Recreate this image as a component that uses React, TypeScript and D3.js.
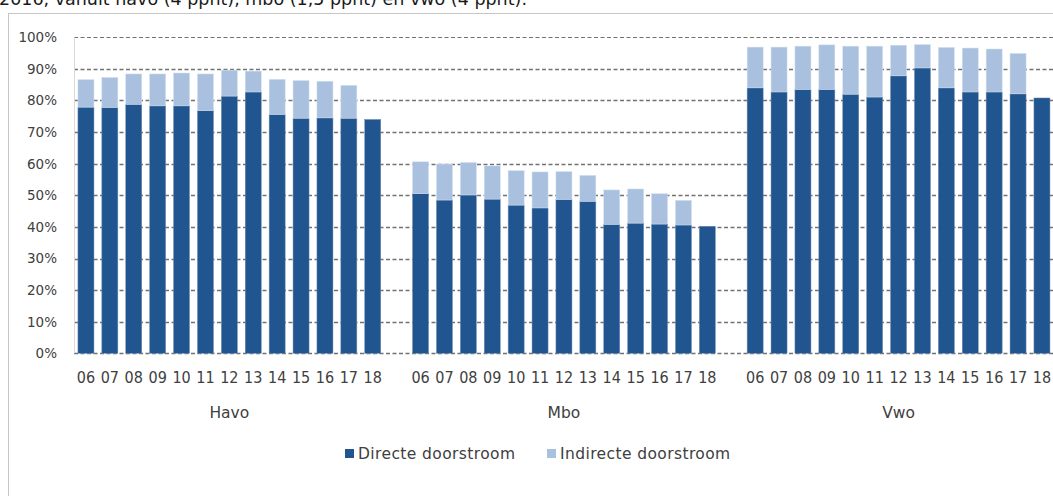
import React, { useEffect, useRef } from "react";
import * as d3 from "d3";

const groups = ["Havo", "Mbo", "Vwo"];
const years = ["06", "07", "08", "09", "10", "11", "12", "13", "14", "15", "16", "17", "18"];

const directHavo = [77.9, 77.8, 78.8, 78.3, 78.3, 76.8, 81.4, 82.7, 75.6, 74.4, 74.5, 74.4, 74.0];
const indirectHavo = [8.7, 9.5, 9.6, 10.1, 10.4, 11.6, 8.2, 6.6, 11.1, 11.9, 11.6, 10.4, 0];
const directMbo = [50.5, 48.5, 50.1, 48.8, 46.9, 46.0, 48.7, 48.1, 40.8, 41.2, 40.9, 40.6, 40.2];
const indirectMbo = [10.1, 11.4, 10.3, 10.5, 10.9, 11.4, 8.8, 8.2, 10.9, 10.8, 9.6, 7.8, 0];
const directVwo = [84.0, 82.7, 83.5, 83.5, 82.0, 81.1, 87.8, 90.3, 84.0, 82.7, 82.7, 82.1, 80.8];
const indirectVwo = [12.9, 14.2, 13.7, 14.1, 15.2, 16.1, 9.7, 7.4, 12.8, 13.9, 13.6, 12.8, 0];

const yTicks = [0, 10, 20, 30, 40, 50, 60, 70, 80, 90, 100];
const seriesNames = ["Directe doorstroom", "Indirecte doorstroom"];
const colors = ["#21558f", "#a9c1de"];

const directByGroup = [directHavo, directMbo, directVwo];
const indirectByGroup = [indirectHavo, indirectMbo, indirectVwo];

const W = 1053;
const H = 496;
const FONT = "DejaVu Sans, Verdana, sans-serif";

export default function App() {
  const svgRef = useRef<SVGSVGElement | null>(null);

  useEffect(() => {
    const svg = d3.select(svgRef.current);
    svg.selectAll("*").remove();

    // slots: 13 years per group, with one empty slot between groups
    const slots: string[] = [];
    groups.forEach((g, gi) => {
      if (gi > 0) slots.push("gap" + gi);
      years.forEach((y) => slots.push(g + "-" + y));
    });

    const left = 74;
    const step = 23.9;
    const x = d3.scaleBand<string>()
      .domain(slots)
      .range([left, left + slots.length * step])
      .paddingInner(0.33)
      .paddingOuter(0.165);

    const y = d3.scaleLinear().domain([0, 100]).range([353.3, 37.3]);

    const rows = groups.flatMap((g, gi) =>
      years.map((yr, i) => ({
        key: g + "-" + yr,
        year: yr,
        direct: directByGroup[gi][i],
        indirect: indirectByGroup[gi][i],
      }))
    );

    // caption line, cut off by the top edge as in the source
    svg.append("text")
      .attr("x", -1)
      .attr("y", 4.5)
      .attr("font-family", FONT)
      .attr("font-size", 17.5)
      .attr("fill", "#1a1a1a")
      .text("2016, vanuit havo (4 ppnt), mbo (1,5 ppnt) en vwo (4 ppnt).");

    // outer frame
    svg.append("rect")
      .attr("x", 8.5)
      .attr("y", 13.5)
      .attr("width", W + 20)
      .attr("height", H + 20)
      .attr("fill", "white")
      .attr("stroke", "#c6c6c6")
      .attr("stroke-width", 1);

    // gridlines
    svg.append("g")
      .selectAll("line")
      .data(yTicks)
      .join("line")
      .attr("x1", left)
      .attr("x2", W)
      .attr("y1", (d) => Math.round(y(d)) + 0.5)
      .attr("y2", (d) => Math.round(y(d)) + 0.5)
      .attr("stroke", "#727272")
      .attr("stroke-width", (d) => (d === 100 ? 1 : 1.6))
      .attr("stroke-dasharray", "4,2.5");

    svg.append("line")
      .attr("x1", left + 0.5)
      .attr("x2", left + 0.5)
      .attr("y1", y(100))
      .attr("y2", y(0))
      .attr("stroke", "#d9d9d9");

    // y labels
    svg.append("g")
      .selectAll("text")
      .data(yTicks)
      .join("text")
      .attr("x", 57)
      .attr("y", (d) => y(d))
      .attr("dy", "0.36em")
      .attr("text-anchor", "end")
      .attr("font-family", FONT)
      .attr("font-size", 13.5)
      .attr("fill", "#404040")
      .text((d) => d + "%");

    // bars
    const bars = svg.append("g");
    bars.selectAll("rect.direct")
      .data(rows)
      .join("rect")
      .attr("class", "direct")
      .attr("x", (d) => x(d.key)!)
      .attr("width", x.bandwidth())
      .attr("y", (d) => y(d.direct))
      .attr("height", (d) => y(0) - y(d.direct))
      .attr("fill", colors[0])
      .attr("stroke", "#6f8fb8")
      .attr("stroke-width", 0.5);

    bars.selectAll("rect.indirect")
      .data(rows.filter((d) => d.indirect > 0))
      .join("rect")
      .attr("class", "indirect")
      .attr("x", (d) => x(d.key)!)
      .attr("width", x.bandwidth())
      .attr("y", (d) => y(d.direct + d.indirect))
      .attr("height", (d) => y(d.direct) - y(d.direct + d.indirect))
      .attr("fill", colors[1])
      .attr("stroke", "#d3e0ef")
      .attr("stroke-width", 0.5);

    // year labels
    svg.append("g")
      .selectAll("text")
      .data(rows)
      .join("text")
      .attr("x", (d) => x(d.key)! + x.bandwidth() / 2)
      .attr("y", 377)
      .attr("dy", "0.36em")
      .attr("text-anchor", "middle")
      .attr("font-family", "DejaVu Sans Condensed, DejaVu Sans, sans-serif")
      .attr("font-size", 16)
      .attr("fill", "#404040")
      .text((d) => d.year);

    // group labels
    svg.append("g")
      .selectAll("text")
      .data(groups)
      .join("text")
      .attr("x", (g) => {
        const a = x(g + "-" + years[0])!;
        const b = x(g + "-" + years[years.length - 1])! + x.bandwidth();
        return (a + b) / 2;
      })
      .attr("y", 412)
      .attr("dy", "0.36em")
      .attr("text-anchor", "middle")
      .attr("font-family", FONT)
      .attr("font-size", 15.5)
      .attr("fill", "#404040")
      .text((g) => g);

    // legend
    const legendX = [345, 547];
    const leg = svg.append("g");
    seriesNames.forEach((name, i) => {
      leg.append("rect")
        .attr("x", legendX[i])
        .attr("y", 449)
        .attr("width", 9)
        .attr("height", 9)
        .attr("fill", colors[i]);
      leg.append("text")
        .attr("x", legendX[i] + 13)
        .attr("y", 453.5)
        .attr("dy", "0.36em")
        .attr("font-family", FONT)
        .attr("font-size", 15.5)
        .attr("letter-spacing", 0.4)
        .attr("fill", "#404040")
        .text(name);
    });
  }, []);

  return (
    <div style={{ position: "absolute", left: 0, top: 0, width: W, height: H, overflow: "hidden" }}>
      <svg ref={svgRef} width={W} height={H} style={{ display: "block" }} />
    </div>
  );
}
